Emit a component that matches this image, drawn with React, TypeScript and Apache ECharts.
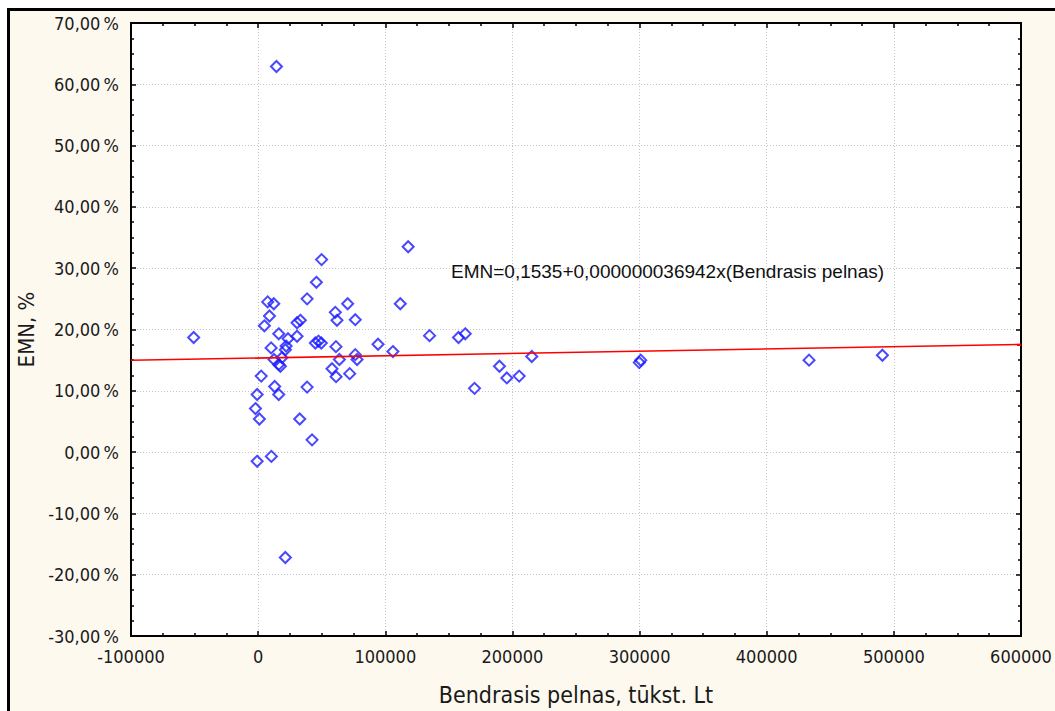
import React, { useEffect, useRef } from "react";
import * as echarts from "echarts";

// Bendrasis pelnas (tūkst. Lt) of each observation
const profitX: number[] = [
  -50700, 14400, 49900, 118000, 45800, 38500, 7500, 12300, 70400, 111800,
  8900, 4900, 60700, 62000, 76400, 30600, 33200, 16200, 23500, 30600,
  10200, 22000, 21400, 45000, 47500, 49700, 61200, 94300, 106000, 134800,
  12500, 18700, 16200, 17500, 63900, 76400, 77800, 58100, 61300, 72000,
  2400, 13000, 16200, 38500, -800, -2100, 1000, 32700, 42400, -800,
  10400, 21400, 157600, 162900, 189800, 195600, 205300, 170200, 215200, 299800,
  300900, 433300, 491000,
];
// EMN, % of each observation
const emnY: number[] = [
  18.7, 62.9, 31.4, 33.5, 27.7, 25.0, 24.5, 24.2, 24.2, 24.2,
  22.2, 20.6, 22.8, 21.5, 21.6, 21.1, 21.5, 19.3, 18.5, 18.9,
  17.0, 17.3, 16.7, 17.8, 18.1, 17.8, 17.2, 17.6, 16.4, 19.0,
  15.1, 15.4, 14.3, 14.0, 15.1, 15.9, 15.1, 13.6, 12.3, 12.8,
  12.4, 10.7, 9.4, 10.6, 9.4, 7.1, 5.4, 5.4, 2.0, -1.5,
  -0.7, -17.2, 18.7, 19.3, 14.0, 12.1, 12.4, 10.4, 15.6, 14.6,
  15.0, 15.0, 15.8,
];

// regression EMN = 0,1535 + 0,000000036942 x  (in %)
const interceptPct = 15.35;
const slopePct = 0.0000036942;
const lineX: number[] = [-100000, 600000];

const xMin = -100000;
const xMax = 600000;
const xStep = 100000;
const yMin = -30;
const yMax = 70;
const yStep = 10;

const equationText = "EMN=0,1535+0,000000036942x(Bendrasis pelnas)";
const xTitle = "Bendrasis pelnas, tūkst. Lt";
const yTitle = "EMN, %";

const TICK_FONT = '"DejaVu Sans Condensed", "DejaVu Sans", sans-serif';

export default function App() {
  const ref = useRef<HTMLDivElement>(null);
  useEffect(() => {
    if (!ref.current) return;
    const chart = echarts.init(ref.current, undefined, { renderer: "svg" });
    const points = profitX.map((x, i) => [x, emnY[i]]);
    const linePts = lineX.map((x) => [x, interceptPct + slopePct * x]);
    const yFmt = (v: number) => v.toFixed(2).replace(".", ",") + "\u2009%";
    const tickCommon = {
      axisLine: { show: true, onZero: false, lineStyle: { color: "#000", width: 2 } },
      axisTick: { show: true, inside: true, length: 5, lineStyle: { color: "#000", width: 1.5 } },
      minorTick: { show: true, splitNumber: 4, length: 3, lineStyle: { color: "#000", width: 1.5 } },
    };
    chart.setOption({
      animation: false,
      backgroundColor: "#ffffff",
      textStyle: { fontFamily: TICK_FONT },
      graphic: [
        {
          type: "rect",
          z: -100,
          silent: true,
          shape: { x: 8.5, y: 9.5, width: 1200, height: 900 },
          style: { fill: "#fdf9ef", stroke: "#000", lineWidth: 3 },
        },
        {
          type: "text",
          left: 451,
          top: 262,
          z: 10,
          style: {
            text: equationText,
            font: '19px "Liberation Sans", Arial, sans-serif',
            fill: "#111",
          },
        },
      ],
      grid: {
        left: 131,
        top: 23,
        width: 890,
        height: 615,
        show: true,
        backgroundColor: "#ffffff",
        borderColor: "#000",
        borderWidth: 2,
      },
      xAxis: [
        {
          type: "value",
          min: xMin,
          max: xMax,
          interval: xStep,
          position: "bottom",
          ...tickCommon,
          axisLabel: {
            margin: 11,
            color: "#1a1a1a",
            fontSize: 18,
            fontFamily: TICK_FONT,
            formatter: (v: number) => String(v),
          },
          splitLine: { show: true, lineStyle: { color: "#c4c4c4", width: 1, type: [1, 2] } },
          name: xTitle,
          nameLocation: "middle",
          nameGap: 47,
          nameTextStyle: { fontSize: 23, color: "#1a1a1a", fontFamily: TICK_FONT },
        },
        {
          type: "value",
          min: xMin,
          max: xMax,
          interval: xStep,
          position: "top",
          ...tickCommon,
          axisLabel: { show: false },
          splitLine: { show: false },
        },
      ],
      yAxis: [
        {
          type: "value",
          min: yMin,
          max: yMax,
          interval: yStep,
          position: "left",
          ...tickCommon,
          axisLabel: {
            margin: 12,
            color: "#1a1a1a",
            fontSize: 18,
            fontFamily: TICK_FONT,
            formatter: yFmt,
          },
          splitLine: { show: true, lineStyle: { color: "#c4c4c4", width: 1, type: [1, 2] } },
          name: yTitle,
          nameLocation: "middle",
          nameRotate: 90,
          nameGap: 94,
          nameTextStyle: { fontSize: 22, color: "#1a1a1a", fontFamily: TICK_FONT },
        },
        {
          type: "value",
          min: yMin,
          max: yMax,
          interval: yStep,
          position: "right",
          ...tickCommon,
          axisLabel: { show: false },
          splitLine: { show: false },
        },
      ],
      series: [
        {
          type: "scatter",
          xAxisIndex: 0,
          yAxisIndex: 0,
          data: points,
          symbol: "diamond",
          symbolSize: 11,
          itemStyle: { color: "rgba(255,255,255,0)", borderColor: "#1a1aff", borderWidth: 2 },
          z: 3,
        },
        {
          type: "line",
          xAxisIndex: 0,
          yAxisIndex: 0,
          data: linePts,
          symbol: "none",
          lineStyle: { color: "#ff0000", width: 1.6 },
          z: 4,
        },
      ],
    });
    return () => chart.dispose();
  }, []);
  return (
    <div
      ref={ref}
      style={{ position: "fixed", left: 0, top: 0, width: 1055, height: 711 }}
    />
  );
}
